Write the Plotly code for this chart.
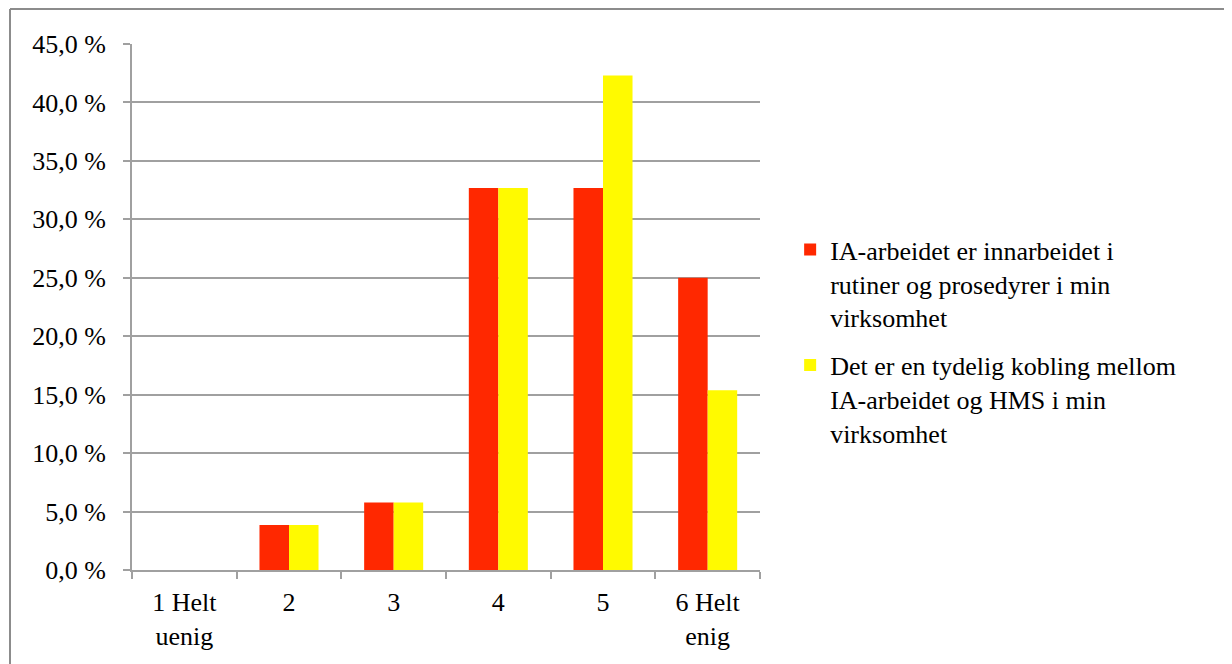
import plotly.graph_objects as go

categories = ["1 Helt<br>uenig", "2", "3", "4", "5", "6 Helt<br>enig"]
series_names = [
    "IA-arbeidet er innarbeidet i<br>rutiner og prosedyrer i min<br>virksomhet",
    "Det er en tydelig kobling mellom<br>IA-arbeidet og HMS i min<br>virksomhet",
]
values_red = [0.0, 3.85, 5.77, 32.69, 32.69, 25.0]
values_yellow = [0.0, 3.85, 5.77, 32.69, 42.31, 15.38]
colors = ["#FF2800", "#FFFA00"]

FONT = "Liberation Serif"
GRID = "#A0A0A0"

# plot area in figure pixels (page is offset by 8px body margin)
L, T, W, H = 124, 36, 628, 526

fig = go.Figure()
for name, vals, col, grp in zip(series_names, [values_red, values_yellow], colors, ["a", "b"]):
    fig.add_trace(go.Bar(x=categories, y=vals, name=name, marker_color=col,
                         marker_line_width=0, legendgroup=grp))

fig.update_layout(
    width=1232, height=664,
    margin=dict(l=L, r=1232 - L - W, t=T, b=664 - T - H),
    paper_bgcolor="white", plot_bgcolor="white",
    barmode="group", bargap=0.436, bargroupgap=0,
    separators=", ",
    font=dict(family=FONT, size=26, color="black"),
    showlegend=True,
    legend=dict(x=1.048, y=0.435, xanchor="left", yanchor="middle",
                font=dict(family=FONT, size=26), valign="top",
                tracegroupgap=11, bgcolor="rgba(0,0,0,0)"),
)
fig.update_xaxes(
    showline=True, linecolor=GRID, linewidth=2,
    ticks="outside", tickson="boundaries", ticklen=7, tickcolor=GRID, tickwidth=2,
    showgrid=False, tickfont=dict(family=FONT, size=26), ticklabelstandoff=8,
)
fig.update_yaxes(
    range=[0, 45], dtick=5, tickformat=".1f", ticksuffix=" %",
    showline=True, linecolor=GRID, linewidth=2,
    ticks="outside", ticklen=7, tickcolor=GRID, tickwidth=2,
    showgrid=True, gridcolor=GRID, gridwidth=2, zeroline=False,
    tickfont=dict(family=FONT, size=26), ticklabelstandoff=12,
)

# outer chart frame (top and left edges visible)
top = (T + H - 1) / H
left = (2 - L) / W
fig.add_shape(type="line", xref="paper", yref="paper",
              x0=left, x1=(1232 - L) / W, y0=top, y1=top,
              line=dict(color="#8C8C8C", width=2))
fig.add_shape(type="line", xref="paper", yref="paper",
              x0=left, x1=left, y0=top, y1=(T + H - 680) / H,
              line=dict(color="#8C8C8C", width=2))

fig.write_html("out.html")
